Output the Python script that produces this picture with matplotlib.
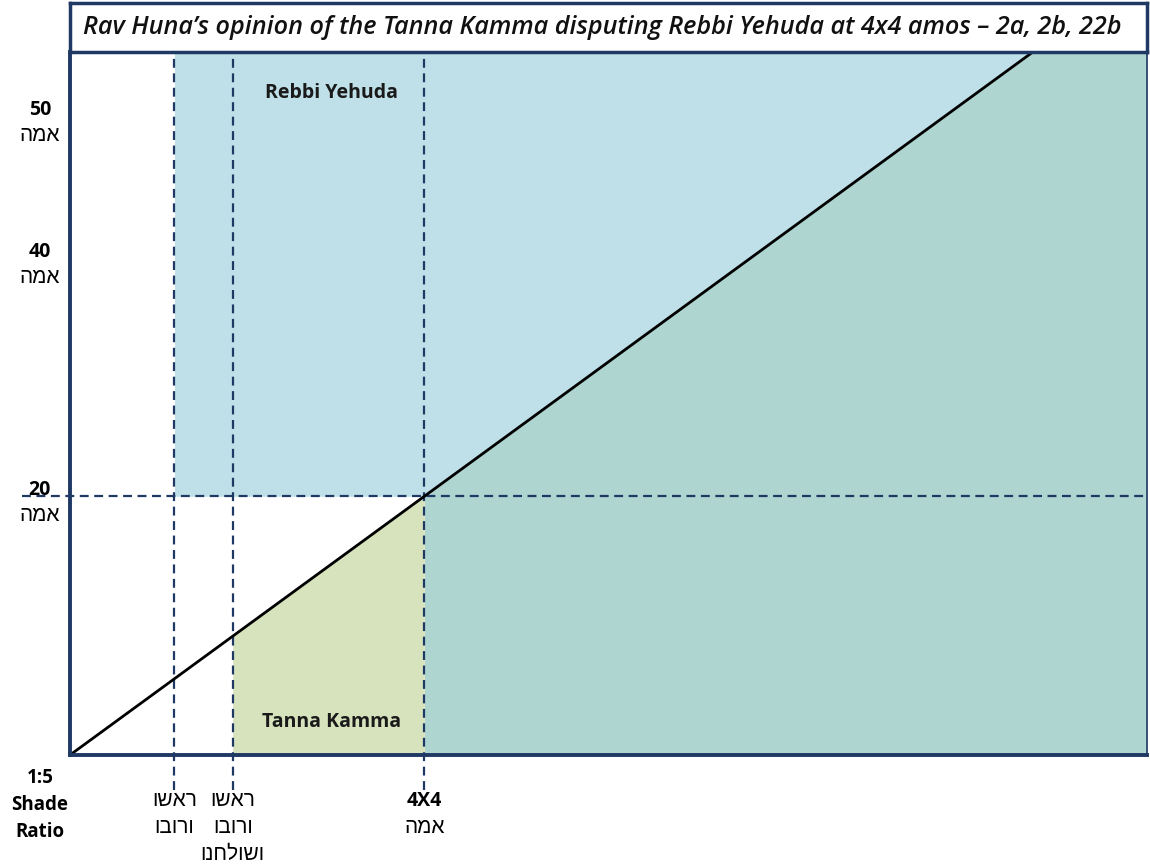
import matplotlib
matplotlib.use("Agg")
import matplotlib.pyplot as plt
import numpy as np

# ---------------- data ----------------
title = "Rav Huna\u2019s opinion of the Tanna Kamma disputing Rebbi Yehuda at 4x4 amos \u2013 2a, 2b, 22b"

# schematic scale (0-100 on both axes)
x_max = 100.0
y_max = 100.0
# diagonal (1:5 shade ratio line) reaches the top at this x
diag_x = [0.0, 89.4]
diag_y = [0.0, 100.0]

# vertical thresholds
v_pos = [9.7, 15.1, 32.9]
v_labels = ["ראשו\nורובו", "ראשו\nורובו\nושולחנו", "4X4\nאמה"]

# horizontal threshold (20 amah)
h_pos = 36.8

# y-axis labels
y_label_pos = [91.7, 71.5, 37.7]
y_label_num = ["50", "40", "20"]
y_label_unit = "אמה"
origin_label = "1:5\nShade\nRatio"

region_names = ["Rebbi Yehuda", "Tanna Kamma"]

# colours
c_blue = "#BFE0E8"
c_teal = "#AED5D0"
c_green = "#D7E3BD"
c_navy = "#1F3864"

heb_family = ["Liberation Sans", "DejaVu Sans"]
lat_family = ["Open Sans", "DejaVu Sans"]


def is_heb(line):
    return any('\u0590' <= ch <= '\u05FF' for ch in line)


def vis(s):
    # render Hebrew right-to-left (matplotlib has no bidi)
    return "\n".join(line[::-1] if is_heb(line) else line for line in s.split("\n"))


def diag(x):
    return np.interp(x, diag_x, diag_y)


fig = plt.figure(figsize=(11.5, 8.64), dpi=100)
L, R, B, T = 70 / 1150, 1147 / 1150, (864 - 755) / 864, (864 - 52) / 864
ax = fig.add_axes([L, B, R - L, T - B])
ax.set_xlim(0, x_max)
ax.set_ylim(0, y_max)
ax.set_xticks([])
ax.set_yticks([])

# regions
xa = np.array([v_pos[0], v_pos[2], diag_x[1]])
ax.fill_between(xa, [h_pos, diag(v_pos[2]), diag(diag_x[1])], y_max, color=c_blue, lw=0, zorder=1)
xt = np.array([v_pos[2], diag_x[1], x_max])
ax.fill_between(xt, 0, np.minimum(diag(xt), y_max), color=c_teal, lw=0, zorder=1)
xg = np.array([v_pos[1], v_pos[2]])
ax.fill_between(xg, 0, diag(xg), color=c_green, lw=0, zorder=1)

# diagonal
ax.plot(diag_x, diag_y, color="black", lw=2, zorder=4, solid_capstyle="butt")

# dashed lines
for xv in v_pos:
    ax.plot([xv, xv], [-5.0, y_max], color=c_navy, lw=1.6, ls=(0, (4, 2.5)), clip_on=False, zorder=3)
ax.plot([-4.5, x_max], [h_pos, h_pos], color=c_navy, lw=1.6, ls=(0, (4, 2.5)), clip_on=False, zorder=3)

# spines
for s in ["left", "bottom"]:
    ax.spines[s].set_linewidth(2.8)
    ax.spines[s].set_color(c_navy)
for s in ["right", "top"]:
    ax.spines[s].set_linewidth(1.2)
    ax.spines[s].set_color(c_navy)
for s in ax.spines.values():
    s.set_zorder(6)

# region labels
ax.text(24.3, 94.2, region_names[0], ha="center", va="center", fontsize=14,
        fontweight="bold", family=lat_family, color="#1a1a1a", zorder=5)
ax.text(24.3, 4.7, region_names[1], ha="center", va="center", fontsize=14,
        fontweight="bold", family=lat_family, color="#1a1a1a", zorder=5)

# y labels
for yp, num in zip(y_label_pos, y_label_num):
    ax.text(-2.8, yp, num, ha="center", va="center", fontsize=14, fontweight="bold",
            family=lat_family, clip_on=False)
    ax.text(-2.8, yp - 3.6, vis(y_label_unit), ha="center", va="center", fontsize=15,
            family=heb_family, clip_on=False)

ax.text(-2.8, -1.9, origin_label, ha="center", va="top", fontsize=13.5, fontweight="bold",
        family=lat_family, linespacing=1.45, clip_on=False)

# x labels
for xv, lab in zip(v_pos, v_labels):
    for i, line in enumerate(lab.split("\n")):
        h = is_heb(line)
        ax.text(xv, -6.5 - i * 3.85, vis(line), ha="center", va="center",
                fontsize=15 if h else 14,
                fontweight="normal" if h else "bold",
                family=heb_family if h else lat_family, clip_on=False)

# title box
tax = fig.add_axes([L, (864 - 52) / 864, R - L, 49 / 864])
tax.set_xticks([])
tax.set_yticks([])
tax.set_facecolor("white")
for s in tax.spines.values():
    s.set_color(c_navy)
    s.set_linewidth(2.5)
tax.text(0.012, 0.5, title, ha="left", va="center", fontsize=18.2, fontstyle="italic",
         fontweight="semibold", family=lat_family, color="#111111", transform=tax.transAxes)

fig.savefig("out.png", dpi=100)
